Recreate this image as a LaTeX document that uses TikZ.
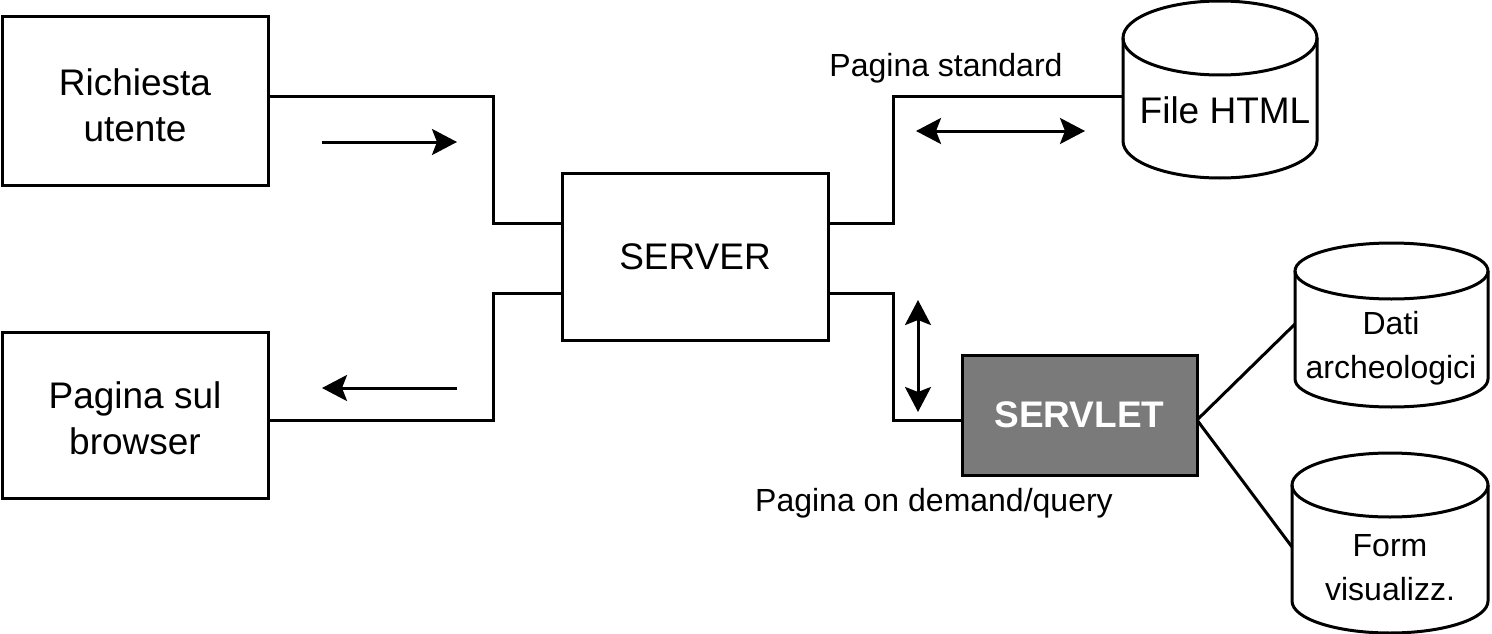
\documentclass[tikz,border=0pt]{standalone}
\usepackage{fontspec}
\setmainfont{Liberation Sans}
\usetikzlibrary{arrows.meta}
\definecolor{servletgray}{RGB}{122,122,122}
\tikzset{
  line/.style={line width=3pt, black},
  head/.tip={Stealth[length=25pt,width=26pt,inset=5pt]},
  tip/.style={line width=3pt, -head},
  dtip/.style={line width=3pt, head-head},
  bigbox/.style={draw, line width=3pt, minimum width=266pt, inner sep=0pt},
  bigtext/.style={inner sep=0pt, align=center, font=\fontsize{37}{46}\selectfont},
  lbl/.style={font=\fontsize{32}{40}\selectfont, inner sep=0pt, align=center},
  cyltext/.style={font=\fontsize{32}{44}\selectfont, inner sep=0pt, align=center},
}
\newcommand\mycyl[5]{%
  \draw[line] (#1,#2) ellipse[x radius=#4pt, y radius=#5pt];
  \draw[line] (#1-#4,#2) -- (#1-#4,#3) arc[start angle=180,end angle=360,x radius=#4pt,y radius=#5pt] -- (#1+#4,#2);
}
\begin{document}
\begin{tikzpicture}[x=1pt,y=-1pt]
\useasboundingbox (0,0) rectangle (1492,634);
% boxes
\node[bigbox, minimum height=168pt] (req) at (135,101) {};
\node[bigtext] (reqt) at ([yshift=-4pt]req.center) {Richiesta\\utente};
\node[bigbox, minimum height=166pt] (page) at (135,415) {};
\node[bigtext] (paget) at ([yshift=-3pt]page.center) {Pagina sul\\browser};
\node[bigbox, minimum height=167pt, font=\fontsize{37}{46}\selectfont] (server) at (695,256.5) {SERVER};
\node[draw, line width=3pt, fill=servletgray, minimum width=235pt, minimum height=120pt,
  text=white, font=\fontsize{37}{45}\selectfont\bfseries] (servlet) at (1079.5,415) {SERVLET};
% cylinders
\mycyl{1220}{38}{141}{97}{37}
\node[font=\fontsize{37}{45}\selectfont, inner sep=0pt] (html) at (1225,110) {File HTML};
\coordinate (htmlW) at (1123,97);
\mycyl{1391.5}{271}{379}{96.5}{28}
\node[cyltext] (dati) at (1391,348) {Dati\\archeologici};
\coordinate (datiW) at (1295,324);
\mycyl{1390}{485}{601}{98}{32}
\node[cyltext] (form) at (1390,568) {Form\\visualizz.};
\coordinate (formW) at (1292,547);
% bend coordinates
\coordinate (jl) at (493,160);
\coordinate (jl2) at (493,350);
\coordinate (jr) at (893,160);
\coordinate (jr2) at (893,350);
% connectors
\draw[line] ([yshift=4pt]req.east) -| (jl) |- ([yshift=33.5pt]server.west);
\draw[line] ([yshift=-36.5pt]server.west) -| (jl2) |- ([yshift=-5pt]page.east);
\draw[line] ([yshift=33.5pt]server.east) -| (jr) |- (htmlW);
\draw[line] ([yshift=-36.5pt]server.east) -| (jr2) |- ([yshift=-5pt]servlet.west);
\coordinate (sv) at (1197,420);
\draw[line] (sv) -- (datiW);
\draw[line] (sv) -- (formW);
% free arrows
\coordinate (a1s) at (322,142); \coordinate (a1e) at (457,142);
\draw[tip] (a1s) -- (a1e);
\coordinate (a2s) at (457,388); \coordinate (a2e) at (322,388);
\draw[tip] (a2s) -- (a2e);
\coordinate (a3s) at (916,131); \coordinate (a3e) at (1085,131);
\draw[dtip] (a3s) -- (a3e);
\coordinate (a4s) at (918,300); \coordinate (a4e) at (918,412);
\draw[dtip] (a4s) -- (a4e);
% labels
\node[lbl] (lstd) at (946,68) {Pagina standard};
\node[lbl] (ldem) at (934,503) {Pagina on demand/query};
\end{tikzpicture}
\end{document}
